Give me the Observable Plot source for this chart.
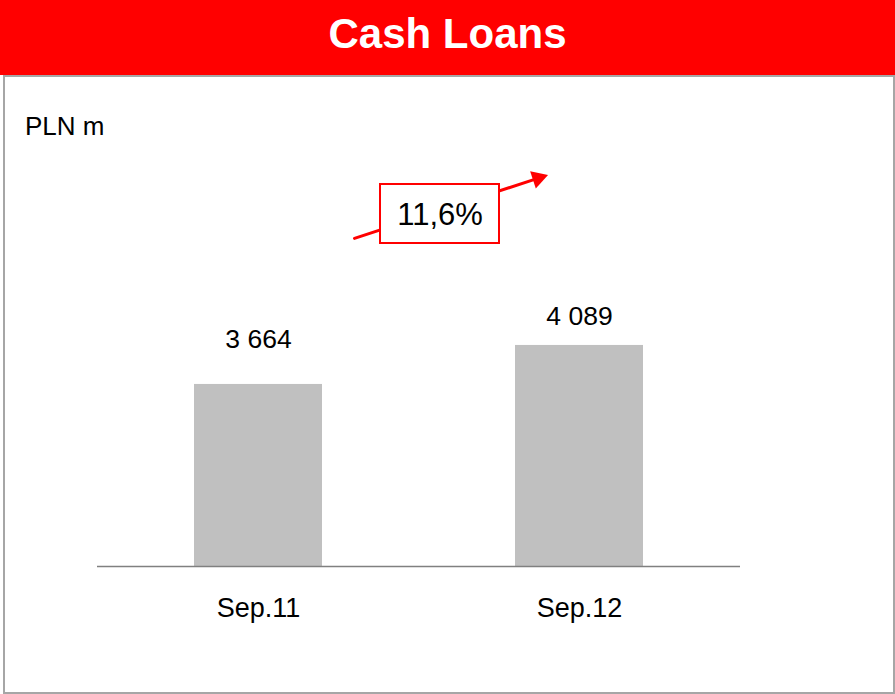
<!DOCTYPE html>
<html>
<head>
<meta charset="utf-8">
<script src="https://cdn.jsdelivr.net/npm/d3@7"></script>
<script src="https://cdn.jsdelivr.net/npm/@observablehq/plot@0.6"></script>
<style>
html, body { margin: 0; padding: 0; background: #fff; }
#wrap { position: relative; width: 895px; height: 694px; overflow: hidden; font-family: "Liberation Sans", Arial, sans-serif; }
#header { position: absolute; left: 0; top: 0; width: 895px; height: 75px; background: #ff0000; color: #fff; font-weight: bold; font-size: 42px; text-align: center; line-height: 68px; }
#frame { position: absolute; left: 3px; top: 75px; width: 892px; height: 619px; box-sizing: border-box; border: 2px solid #a6a6a6; }
#unit { position: absolute; left: 25px; top: 113px; font-size: 26px; line-height: 26px; color: #000; }
#chart { position: absolute; left: 0; top: 145px; }
</style>
</head>
<body>
<div id="wrap">
  <div id="header">Cash Loans</div>
  <div id="frame"></div>
  <div id="unit">PLN m</div>
  <div id="chart"></div>
</div>
<script>
// ---- data ----
const periods = ["Sep.11", "Sep.12"];
const values = [3664, 4089];
const unitLabel = "PLN m";
const yDomain = [1680, 6159]; // axis does not start at zero in the original

// annotation (growth arrow), in data units
const arrowFrom = "Sep.11";
const arrowTo = "Sep.12";
const arrowY = [4913, 6059];
const boxY = [5200, 5843];
const boxTextY = 5511;

document.getElementById("unit").textContent = unitLabel;

const data = periods.map((p, i) => ({period: p, value: values[i]}));

const locale = d3.formatLocale({decimal: ",", thousands: " ", grouping: [3], currency: ["", ""]});
const fmtValue = locale.format(",d");
const fmtPct = locale.format(".1%");
const growthLabel = fmtPct(values[1] / values[0] - 1);

const labelStyle = {x: "period", y: "value", text: d => fmtValue(d.value), lineAnchor: "bottom", fontSize: 26.5, fill: "#000"};

const chart = Plot.plot({
  width: 895,
  height: 545,
  marginLeft: 97,
  marginRight: 155,
  marginTop: 10,
  marginBottom: 124,
  style: {fontFamily: "'Liberation Sans', Arial, sans-serif", fontSize: "27px", color: "#000", background: "transparent", overflow: "visible"},
  x: {type: "band", domain: periods, paddingInner: 0.6, paddingOuter: 0.3, tickSize: 0, tickPadding: 31, label: null},
  y: {domain: yDomain, axis: null},
  marks: [
    Plot.barY(data, {x: "period", y1: yDomain[0], y2: "value", fill: "#c0c0c0"}),
    Plot.ruleY([yDomain[0]], {stroke: "#808080", strokeWidth: 1.5}),
    Plot.text(data, {...labelStyle, filter: d => d.period === periods[0], dy: -36}),
    Plot.text(data, {...labelStyle, filter: d => d.period === periods[1], dy: -20}),
    Plot.arrow([{from: arrowFrom, to: arrowTo}], {x1: "from", x2: "to", y1: arrowY[0], y2: arrowY[1], insetStart: 101, insetEnd: 44, headLength: 0, stroke: "#ff0000", strokeWidth: 3}),
    Plot.dot([{to: arrowTo}], {x: "to", y: arrowY[1], symbol: "triangle", r: 6.8, fill: "#ff0000", stroke: "none", rotate: 72, dx: -41.5, dy: 13.6}),
    Plot.rect([{label: growthLabel}], {y1: boxY[0], y2: boxY[1], insetLeft: 283, insetRight: 241, fill: "#fff", stroke: "#ff0000", strokeWidth: 2}),
    Plot.text([{label: growthLabel}], {y: boxTextY, text: "label", dx: 21, fontSize: 31, fill: "#000"})
  ]
});
document.getElementById("chart").appendChild(chart);
</script>
</body>
</html>
